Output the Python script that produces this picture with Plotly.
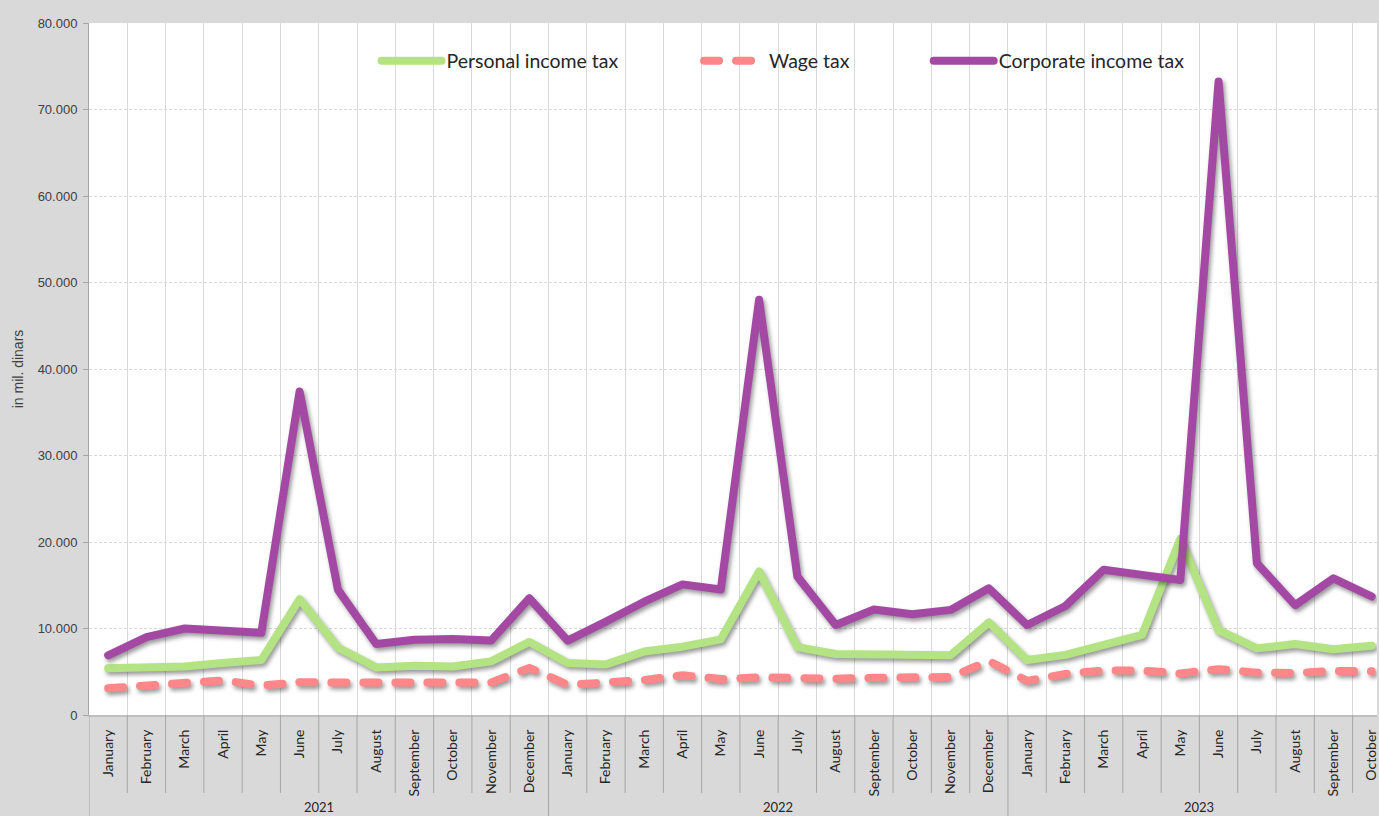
import plotly.graph_objects as go

months = ["January", "February", "March", "April", "May", "June", "July",
          "August", "September", "October", "November", "December"]
years = ["2021", "2022", "2023"]
months_per_year = [12, 12, 10]
month_labels = months * 2 + months[:10]

personal_income_tax = [5400, 5450, 5600, 6000, 6350, 13400, 7800, 5500, 5700, 5600, 6200, 8450,
                       6000, 5850, 7350, 7900, 8750, 16600, 7850, 7050, 6950, 7050, 6900, 10700,
                       6350, 6950, 8100, 9250, 20350, 9800, 7700, 8200, 7600, 8000]
wage_tax = [3100, 3400, 3700, 4000, 3400, 3800, 3750, 3700, 3700, 3700, 3750, 5450,
            3500, 3750, 4050, 4600, 4150, 4350, 4250, 4200, 4300, 4250, 4400, 6250,
            3950, 4750, 5150, 5150, 4800, 5300, 4900, 4850, 5100, 5050]
corporate_income_tax = [6900, 9000, 10000, 9700, 9500, 37400, 14500, 8200, 8700, 8800, 8600, 13500,
                        8600, 10800, 13100, 15100, 14500, 48000, 16000, 10400, 12200, 11650, 12150, 14650,
                        10400, 12600, 16800, 16200, 15600, 73250, 17550, 12700, 15800, 13700]

y_ticks = [0, 10000, 20000, 30000, 40000, 50000, 60000, 70000, 80000]
y_ticktext = ["0", "10.000", "20.000", "30.000", "40.000", "50.000", "60.000", "70.000", "80.000"]

n = len(month_labels)
xs = list(range(n))

fig = go.Figure()
fig.add_trace(go.Scatter(x=xs, y=personal_income_tax, mode="lines", name="Personal income tax",
                         line=dict(color="#b3e382", width=8), legend="legend", showlegend=True))
fig.add_trace(go.Scatter(x=xs, y=wage_tax, mode="lines", name="Wage tax",
                         line=dict(color="#ff878a", width=8, dash="15px,17px"), legend="legend2",
                         showlegend=True))
fig.add_trace(go.Scatter(x=xs, y=corporate_income_tax, mode="lines", name="Corporate income tax",
                         line=dict(color="#a349a4", width=8), legend="legend3", showlegend=True))

plot_h = 816 - 23 - 101
boundaries = [i - 0.5 for i in range(n + 1)]
year_bounds = [-0.5]
acc = -0.5
for m in months_per_year:
    acc += m
    year_bounds.append(acc)

shapes = []
for b in boundaries:
    if b in year_bounds:
        y1 = -101 / plot_h
    else:
        y1 = -78 / plot_h
    shapes.append(dict(type="line", xref="x", yref="paper", x0=b, x1=b, y0=0, y1=y1,
                       line=dict(color="#a6a6a6", width=1), layer="above"))

annotations = []
start = 0
for yr, m in zip(years, months_per_year):
    annotations.append(dict(x=start + (m - 1) / 2, y=(715 - 807) / plot_h, xref="x", yref="paper",
                            text=yr, showarrow=False, xanchor="center", yanchor="middle",
                            font=dict(family="Lato", size=13, color="#262626")))
    start += m

legend_common = dict(orientation="h", yanchor="middle", y=(715 - 61) / plot_h, xanchor="left",
                     bgcolor="rgba(0,0,0,0)", font=dict(family="Lato", size=19.5, color="#262626"),
                     itemwidth=60, visible=True)

fig.update_layout(
    width=1379, height=816,
    margin=dict(l=89, r=0, t=23, b=101),
    paper_bgcolor="#d9d9d9", plot_bgcolor="#ffffff",
    font=dict(family="Lato", color="#262626"),
    showlegend=True,
    legend=dict(legend_common, x=(377 - 89) / 1290),
    legend2=dict(legend_common, x=(700 - 89) / 1290),
    legend3=dict(legend_common, x=(930 - 89) / 1290),
    xaxis=dict(range=[-0.5, -0.5 + 1290 / 38.35], tickmode="array", tickvals=xs, ticktext=month_labels,
               tickangle=-90, ticks="", showgrid=False, zeroline=False, showline=True,
               linecolor="#bfbfbf", linewidth=2, ticklabelstandoff=7, ticklabeloverflow="allow",
               tickfont=dict(family="Lato", size=14, color="#262626"),
               minor=dict(tickmode="array", tickvals=boundaries, showgrid=True,
                          gridcolor="#d9d9d9", gridwidth=1, ticks="")),
    yaxis=dict(range=[0, 80000], tickmode="array", tickvals=y_ticks, ticktext=y_ticktext,
               showgrid=True, gridcolor="#d9d9d9", griddash="3px,2px", ticks="outside", ticklen=5,
               tickcolor="#a6a6a6", showline=True, linecolor="#a6a6a6", linewidth=1, zeroline=False,
               ticklabelstandoff=3,
               tickfont=dict(family="Liberation Sans", size=13, color="#404040"),
               title=dict(text="in mil. dinars", standoff=10,
                          font=dict(family="Liberation Sans", size=14, color="#404040"))),
    shapes=shapes,
    annotations=annotations,
)

post = ("document.body.style.margin='0';"
        "var s=document.createElement('style');"
        "s.textContent='path.js-line{stroke-linecap:round;stroke-linejoin:round}"
        ".scatterlayer .trace{filter:drop-shadow(2px 3px 2px rgba(0,0,0,0.4))}';"
        "document.head.appendChild(s);")

fig.write_html("out.html", post_script=post, config={"displayModeBar": False})
